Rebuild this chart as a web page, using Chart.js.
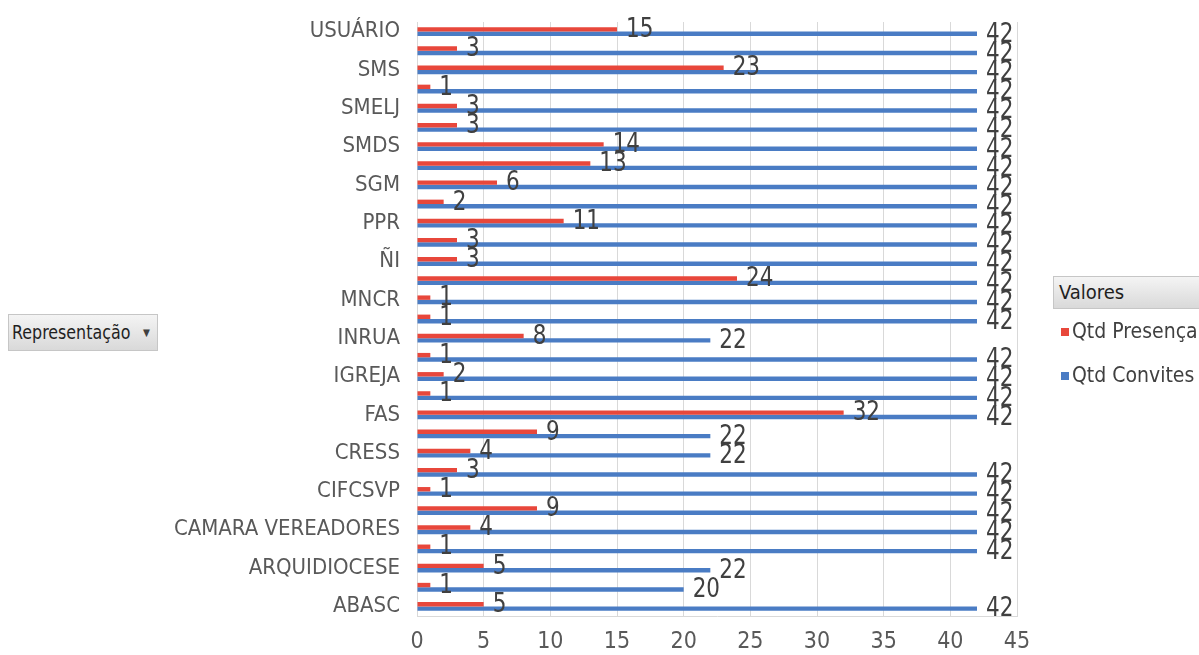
<!DOCTYPE html>
<html>
<head>
<meta charset="utf-8">
<script src="https://cdn.jsdelivr.net/npm/chart.js@4/dist/chart.umd.min.js"></script>
<style>
  html, body { margin: 0; padding: 0; background: #ffffff; }
  body { width: 1199px; height: 655px; position: relative; overflow: hidden; }
  #wrap { position: absolute; left: 0; top: 0; width: 1199px; height: 655px; }
  .fieldbtn {
    position: absolute; box-sizing: border-box;
    background: linear-gradient(#f4f4f4, #d9d9d9);
    border: 1px solid #c6c6c6;
    font-family: 'DejaVu Sans Condensed', sans-serif;
    color: #1f1f1f;
  }
  #repBtn { left: 8px; top: 314px; width: 150px; height: 37px; font-size: 19px; line-height: 35px; padding-left: 3px; }
  #repBtn .txt { display: inline-block; transform: scaleX(0.93); transform-origin: left center; }
  #repBtn .arrow { position: absolute; left: 134px; top: 0; font-size: 10px; color: #404040; }
  #valBtn { left: 1053px; top: 276px; width: 150px; height: 33px; font-size: 20px; line-height: 31px; padding-left: 5px; border-right: none; }
  #legend { position: absolute; left: 1061px; top: 316px; font-family: 'DejaVu Sans Condensed', sans-serif; font-size: 21px; color: #404040; }
  #legend .item { height: 44px; line-height: 30px; white-space: nowrap; }
  #legend .sw { display: inline-block; width: 8px; height: 8px; margin-right: 3px; vertical-align: 2px; }
</style>
</head>
<body>
<div id="wrap"><canvas id="c" width="1199" height="655"></canvas></div>
<div id="repBtn" class="fieldbtn"><span class="txt">Representação</span><span class="arrow">▼</span></div>
<div id="valBtn" class="fieldbtn">Valores</div>
<div id="legend"></div>
<script>
// Categories (top to bottom). Unlabeled rows in the original are left blank.
const categories = [
  'USUÁRIO', '', 'SMS', '', 'SMELJ', '', 'SMDS', '', 'SGM', '', 'PPR', '',
  'ÑI', '', 'MNCR', '', 'INRUA', '', 'IGREJA', '', 'FAS', '', 'CRESS', '',
  'CIFCSVP', '', 'CAMARA VEREADORES', '', 'ARQUIDIOCESE', '', 'ABASC'
];
const qtdPresenca = [
  15, 3, 23, 1, 3, 3, 14, 13, 6, 2, 11, 3, 3, 24, 1, 1,
  8, 1, 2, 1, 32, 9, 4, 3, 1, 9, 4, 1, 5, 1, 5
];
const qtdConvites = [
  42, 42, 42, 42, 42, 42, 42, 42, 42, 42, 42, 42, 42, 42, 42, 42,
  22, 42, 42, 42, 42, 22, 22, 42, 42, 42, 42, 42, 22, 20, 42
];
const xTicks = [0, 5, 10, 15, 20, 25, 30, 35, 40, 45];
const seriesNames = ['Qtd Presença', 'Qtd Convites'];
const seriesColors = ['#E8473B', '#4A7CC4'];

const COND = "'DejaVu Sans Condensed', sans-serif";

const dataLabels = {
  id: 'dataLabels',
  afterDatasetsDraw(chart) {
    const ctx = chart.ctx;
    ctx.save();
    ctx.font = '26px ' + COND;
    ctx.fillStyle = '#404040';
    ctx.textAlign = 'left';
    ctx.textBaseline = 'middle';
    chart.data.datasets.forEach((ds, di) => {
      const meta = chart.getDatasetMeta(di);
      meta.data.forEach((el, i) => {
        const x = el.x + 9, y = el.y + 1;
        ctx.save();
        ctx.translate(x, y);
        ctx.scale(0.92, 1);
        ctx.fillText(String(ds.data[i]), 0, 0);
        ctx.restore();
      });
    });
    ctx.restore();
  }
};

new Chart(document.getElementById('c'), {
  type: 'bar',
  data: {
    labels: categories,
    datasets: [
      { label: seriesNames[0], data: qtdPresenca, backgroundColor: seriesColors[0], categoryPercentage: 0.46, barPercentage: 1.0 },
      { label: seriesNames[1], data: qtdConvites, backgroundColor: seriesColors[1], categoryPercentage: 0.46, barPercentage: 1.0 }
    ]
  },
  options: {
    indexAxis: 'y',
    responsive: false,
    animation: false,
    layout: { padding: { left: 0, right: 182, top: 22, bottom: 0 } },
    plugins: { legend: { display: false }, tooltip: { enabled: false } },
    scales: {
      x: {
        min: 0, max: 45,
        afterBuildTicks(scale) { scale.ticks = xTicks.map(v => ({ value: v })); },
        afterFit(scale) { scale.height = 39; },
        grid: { color: '#D9D9D9', drawTicks: false },
        border: { color: '#D9D9D9' },
        ticks: { color: '#595959', font: { family: COND, size: 23 }, padding: 12 }
      },
      y: {
        afterFit(scale) { scale.width = 417; scale.paddingTop = 0; scale.paddingBottom = 0; },
        grid: { display: false, drawTicks: false },
        border: { color: '#D9D9D9' },
        ticks: { autoSkip: false, color: '#595959', font: { family: COND, size: 22 }, padding: 17 }
      }
    }
  },
  plugins: [dataLabels]
});

const legend = document.getElementById('legend');
seriesNames.forEach((n, i) => {
  const d = document.createElement('div');
  d.className = 'item';
  d.innerHTML = '<span class="sw" style="background:' + seriesColors[i] + '"></span>' + n;
  legend.appendChild(d);
});
</script>
</body>
</html>
